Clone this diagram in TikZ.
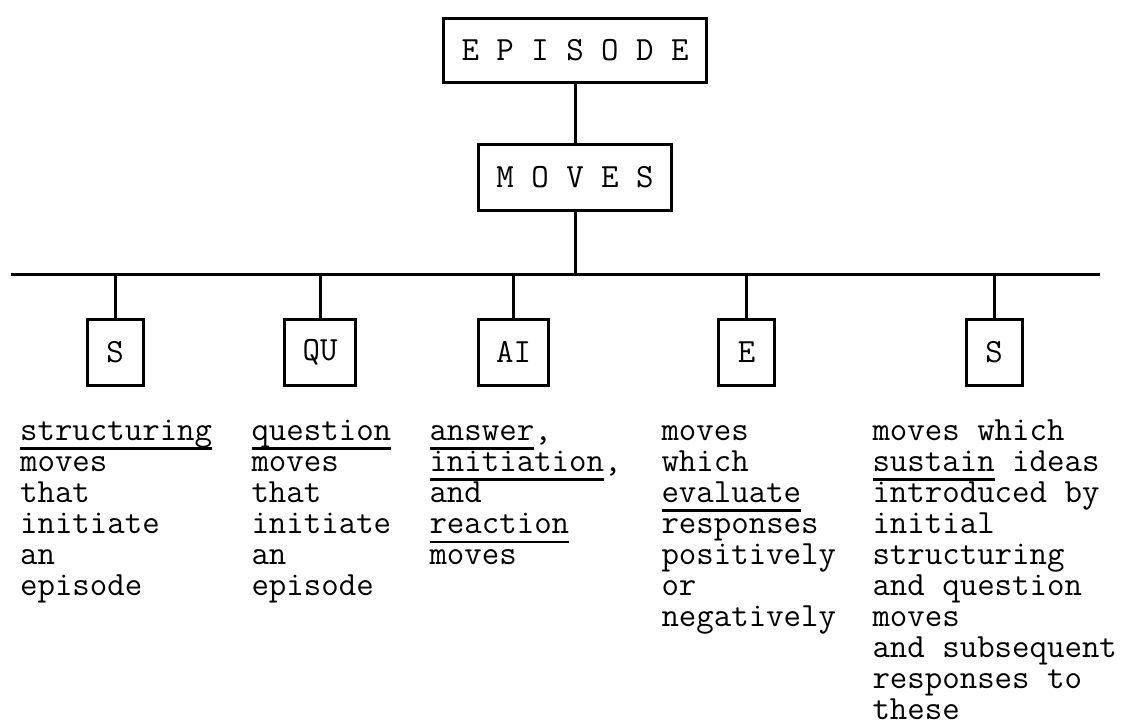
\documentclass[tikz,border=0pt]{standalone}
\usepackage{fontspec}
\usetikzlibrary{positioning}

\newcommand{\tw}{\ttfamily\fontsize{33.9}{31}\selectfont\addfontfeatures{FakeBold=1.2}}
\newcommand{\undl}[1]{\setbox0\hbox{#1}\rlap{\rule[-9.5pt]{\wd0}{2.4pt}}\box0\relax}

\begin{document}
\begin{tikzpicture}[x = 1pt, y = -1pt, line width = 3pt,
    box/.style = {draw, font = \tw, inner sep = 0pt, inner xsep = 18pt,
                  minimum width = 56pt, minimum height = 66pt},
    col/.style = {anchor = base west, inner sep = 0pt, font = \tw}]
            \useasboundingbox (0, 0) rectangle (1122, 726);

            \node[box, minimum height = 64pt] (episode) at (575, 50) {E P I S O D E};
            \node[box] (moves) at (575, 177.5) {M O V E S};

            \coordinate (bar w) at (11, 274);
            \coordinate (bar e) at (1100, 274);

            \node[box] (s1) at (115, 352) {S};
            \node[box] (qu) at (320, 352) {QU};
            \node[box] (ai) at (513.5, 352) {AI};
            \node[box] (ev) at (746.5, 352) {E};
            \node[box] (s2) at (994, 352) {S};

            \draw (episode) -- (moves);
            \draw (moves) -- (moves |- bar w);
            \draw (bar w) -- (bar e);
            \foreach \b in {s1, qu, ai, ev, s2}
                \draw (\b.north) -- (\b.north |- bar w);

            % descriptions under each move
            \node[col] (txt s1) at (18.6, 440) {\begin{tabular}[t]{@{}l@{}}
                \undl{structuring}\\ moves\\ that\\ initiate\\ an\\ episode\end{tabular}};
            \node[col] (txt qu) at (250, 440) {\begin{tabular}[t]{@{}l@{}}
                \undl{question}\\ moves\\ that\\ initiate\\ an\\ episode\end{tabular}};
            \node[col] (txt ai) at (428, 440) {\begin{tabular}[t]{@{}l@{}}
                \undl{answer},\\ \undl{initiation},\\ and\\ \undl{reaction}\\ moves\end{tabular}};
            \node[col] (txt ev) at (660, 440) {\begin{tabular}[t]{@{}l@{}}
                moves\\ which\\ \undl{evaluate}\\ responses\\ positively\\ or\\ negatively\end{tabular}};
            \node[col] (txt s2) at (871, 440) {\begin{tabular}[t]{@{}l@{}}
                moves which\\ \undl{sustain} ideas\\ introduced by\\ initial\\ structuring\\
                and question\\ moves\\ and subsequent\\ responses to\\ these\end{tabular}};

        \end{tikzpicture}
\end{document}
